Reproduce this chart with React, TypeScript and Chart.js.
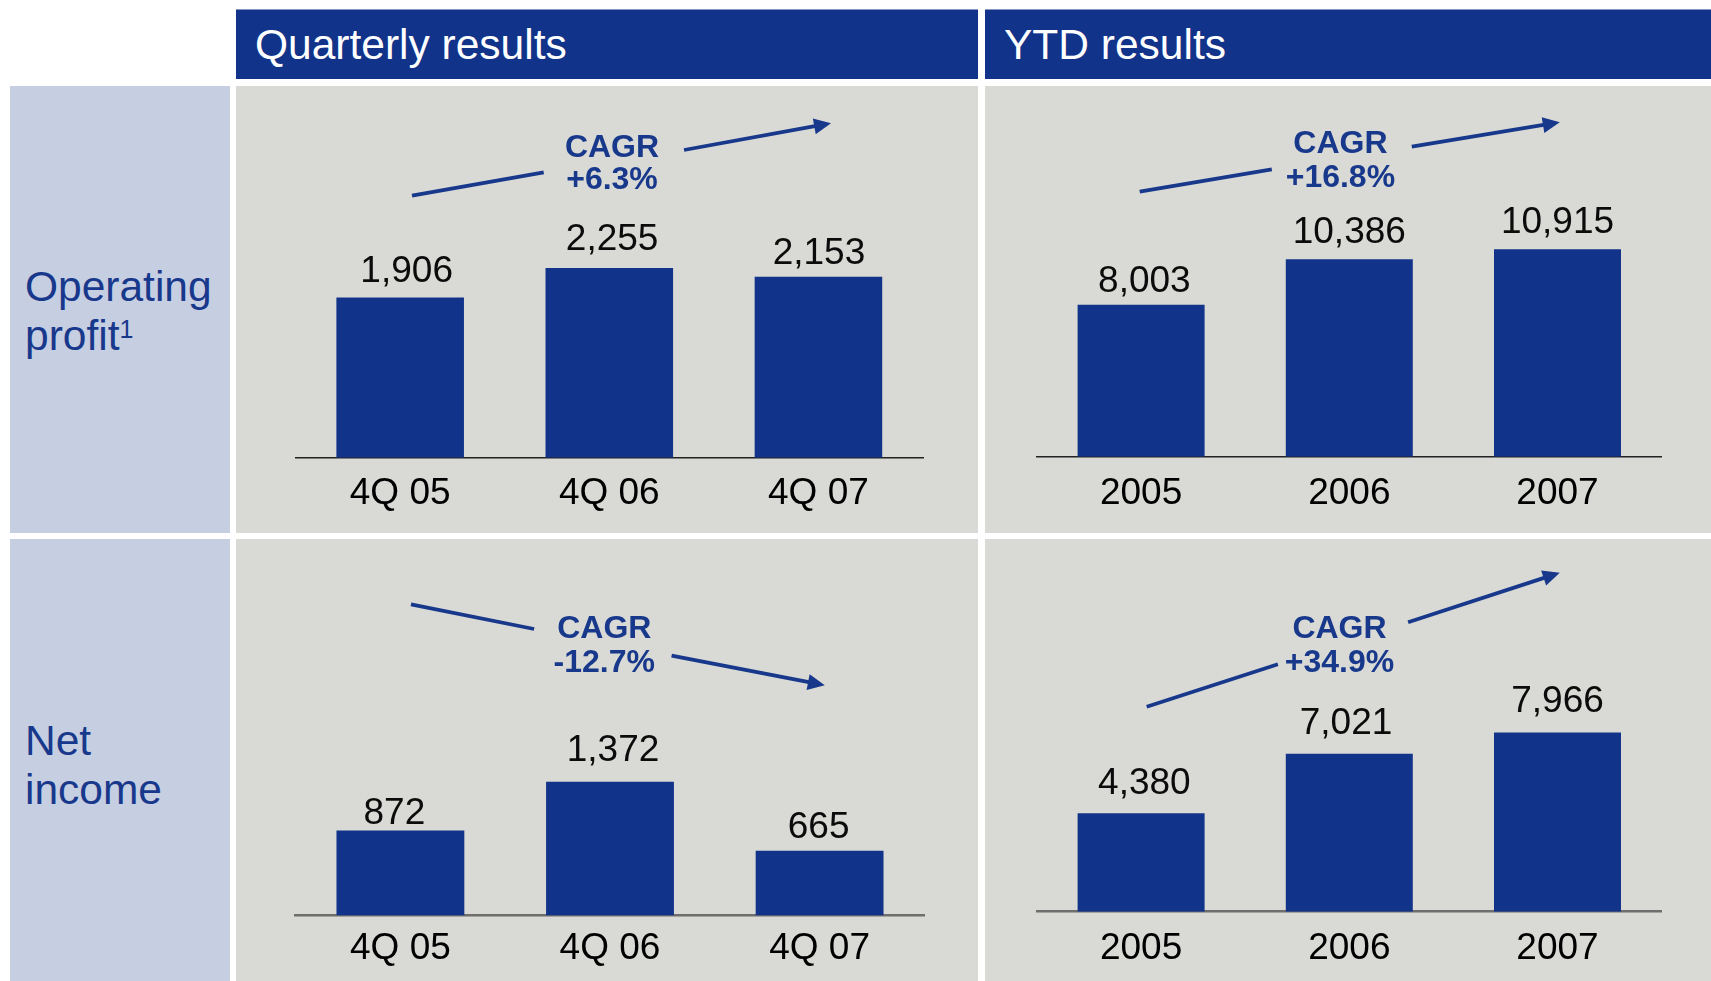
import React, { useEffect, useRef } from "react";
import { Chart, registerables } from "chart.js";

Chart.register(...registerables);

// ---------- data ----------
const quarterLabels = ["4Q 05", "4Q 06", "4Q 07"];
const yearLabels = ["2005", "2006", "2007"];
const opProfitQuarterly = [1906, 2255, 2153];
const opProfitYtd = [8003, 10386, 10915];
const netIncomeQuarterly = [872, 1372, 665];
const netIncomeYtd = [4380, 7021, 7966];
const cagrOpQuarterly = "+6.3%";
const cagrOpYtd = "+16.8%";
const cagrNiQuarterly = "-12.7%";
const cagrNiYtd = "+34.9%";
const columnTitles = ["Quarterly results", "YTD results"];

// ---------- styles ----------
const FONT = '"Liberation Sans", Arial, Helvetica, sans-serif';
const BLUE = "#12338A";
const TEXT_BLUE = "#18388C";
const PANEL_BG = "#D9DAD5";
const LABEL_BG = "#C6CEE1";

type Seg = [number, number, number, number];

type PanelCfg = {
  left: number;
  top: number;
  width: number;
  height: number;
  padLeft: number;
  padRight: number;
  padBottom: number;
  yMax: number;
  tickPad: number;
  labelGap: number;
  labelDx: number[];
  labelDy: number[];
  axisColor: string;
  axisWidth: number;
  cagrText: string;
  cagrX: number;
  cagrY1: number;
  cagrY2: number;
  seg1: Seg;
  seg2: Seg;
};

const fmt = (v: number) => v.toLocaleString("en-US");

const overlayPlugin = {
  id: "overlay",
  afterDatasetsDraw(chart: any, _args: any, opts: any) {
    const ctx: CanvasRenderingContext2D = chart.ctx;
    const meta = chart.getDatasetMeta(0);
    const data = chart.data.datasets[0].data as number[];
    ctx.save();
    // value labels
    ctx.font = `37px ${FONT}`;
    ctx.fillStyle = "#0b0b0b";
    ctx.textAlign = "center";
    ctx.textBaseline = "alphabetic";
    meta.data.forEach((bar: any, i: number) => {
      ctx.fillText(
        fmt(data[i]),
        bar.x + (opts.labelDx[i] || 0),
        bar.y - opts.labelGap + (opts.labelDy[i] || 0)
      );
    });
    // CAGR text
    ctx.font = `bold 32px ${FONT}`;
    ctx.fillStyle = TEXT_BLUE;
    ctx.fillText("CAGR", opts.cagrX, opts.cagrY1);
    ctx.fillText(opts.cagrText, opts.cagrX, opts.cagrY2);
    // arrow
    ctx.strokeStyle = TEXT_BLUE;
    ctx.fillStyle = TEXT_BLUE;
    ctx.lineWidth = 3.8;
    ctx.lineCap = "butt";
    const s1: Seg = opts.seg1;
    const s2: Seg = opts.seg2;
    ctx.beginPath();
    ctx.moveTo(s1[0], s1[1]);
    ctx.lineTo(s1[2], s1[3]);
    ctx.stroke();
    const ang = Math.atan2(s2[3] - s2[1], s2[2] - s2[0]);
    const headL = 17;
    const headW = 8;
    const bx = s2[2] - headL * Math.cos(ang);
    const by = s2[3] - headL * Math.sin(ang);
    ctx.beginPath();
    ctx.moveTo(s2[0], s2[1]);
    ctx.lineTo(bx + 2 * Math.cos(ang), by + 2 * Math.sin(ang));
    ctx.stroke();
    ctx.beginPath();
    ctx.moveTo(s2[2], s2[3]);
    ctx.lineTo(bx - headW * Math.sin(ang), by + headW * Math.cos(ang));
    ctx.lineTo(bx + headW * Math.sin(ang), by - headW * Math.cos(ang));
    ctx.closePath();
    ctx.fill();
    ctx.restore();
  },
};

function BarPanel({ labels, values, cfg }: { labels: string[]; values: number[]; cfg: PanelCfg }) {
  const ref = useRef<HTMLCanvasElement>(null);
  useEffect(() => {
    const chart = new Chart(ref.current as HTMLCanvasElement, {
      type: "bar",
      data: {
        labels,
        datasets: [
          {
            data: values,
            backgroundColor: BLUE,
            borderWidth: 0,
            barPercentage: 0.61,
            categoryPercentage: 1,
          },
        ],
      },
      options: {
        responsive: false,
        animation: false,
        events: [],
        layout: {
          padding: { left: cfg.padLeft, right: cfg.padRight, top: 0, bottom: cfg.padBottom },
        },
        plugins: {
          legend: { display: false },
          tooltip: { enabled: false },
          title: { display: false },
          overlay: {
            labelGap: cfg.labelGap,
            labelDx: cfg.labelDx,
            labelDy: cfg.labelDy,
            cagrText: cfg.cagrText,
            cagrX: cfg.cagrX,
            cagrY1: cfg.cagrY1,
            cagrY2: cfg.cagrY2,
            seg1: cfg.seg1,
            seg2: cfg.seg2,
          },
        } as any,
        scales: {
          x: {
            type: "category",
            grid: { display: false, drawTicks: false },
            border: { display: true, color: cfg.axisColor, width: cfg.axisWidth },
            ticks: {
              color: "#000",
              padding: cfg.tickPad,
              font: { family: FONT, size: 37, lineHeight: 1.2 },
              maxRotation: 0,
              autoSkip: false,
            },
            afterFit: (scale: any) => {
              scale.height = 60;
            },
          },
          y: {
            display: false,
            min: 0,
            max: cfg.yMax,
          },
        },
      },
      plugins: [overlayPlugin],
    });
    return () => chart.destroy();
  }, []);
  return (
    <div
      style={{
        position: "absolute",
        left: cfg.left,
        top: cfg.top,
        width: cfg.width,
        height: cfg.height,
        background: PANEL_BG,
      }}
    >
      <canvas ref={ref} width={cfg.width} height={cfg.height} style={{ display: "block" }} />
    </div>
  );
}

const panelTL: PanelCfg = {
  left: 236, top: 86, width: 742, height: 447,
  padLeft: 59.6, padRight: 55, padBottom: 15.3, yMax: 4420,
  tickPad: 13.4, labelGap: 16, labelDx: [6.5, 2.8, 0.5], labelDy: [1, -2.2, 3.3],
  axisColor: "#222", axisWidth: 1.6,
  cagrText: cagrOpQuarterly, cagrX: 376, cagrY1: 70.7, cagrY2: 103.3,
  seg1: [176, 109.7, 307.7, 86.3], seg2: [448, 64, 595, 37.3],
};
const panelTR: PanelCfg = {
  left: 985, top: 86, width: 726, height: 447,
  padLeft: 52, padRight: 49.4, padBottom: 16.3, yMax: 19511,
  tickPad: 14.4, labelGap: 15, labelDx: [3.3, 0, 0], labelDy: [2, -1, -1],
  axisColor: "#222", axisWidth: 1.6,
  cagrText: cagrOpYtd, cagrX: 355.4, cagrY1: 67.3, cagrY2: 100.7,
  seg1: [154.7, 105.7, 286.8, 83.3], seg2: [426.8, 60.7, 574.8, 36.3],
};
const panelBL: PanelCfg = {
  left: 236, top: 539, width: 742, height: 442,
  padLeft: 59.6, padRight: 53.6, padBottom: 5.5, yMax: 3862,
  tickPad: 11, labelGap: 14, labelDx: [-6, 3, -1], labelDy: [7.6, -6.5, 1],
  axisColor: "#6e6e6e", axisWidth: 2.5,
  cagrText: cagrNiQuarterly, cagrX: 368.3, cagrY1: 99.3, cagrY2: 132.7,
  seg1: [175, 65.3, 298.1, 90], seg2: [435.6, 116.7, 588.8, 146.3],
};
const panelBR: PanelCfg = {
  left: 985, top: 539, width: 726, height: 442,
  padLeft: 52, padRight: 49.4, padBottom: 9.3, yMax: 16564,
  tickPad: 14.4, labelGap: 20, labelDx: [3.3, -3.3, 0], labelDy: [1, 0, 0],
  axisColor: "#6e6e6e", axisWidth: 2.5,
  cagrText: cagrNiYtd, cagrX: 354.5, cagrY1: 99.3, cagrY2: 132.7,
  seg1: [161.7, 167.7, 292.9, 125.3], seg2: [423.1, 83.3, 574.8, 33.7],
};

function Header({ left, width, text }: { left: number; width: number; text: string }) {
  return (
    <div
      style={{
        position: "absolute",
        left,
        top: 9,
        width: width - 19,
        height: 70,
        paddingLeft: 19,
        paddingTop: 2,
        boxSizing: "border-box",
        background: BLUE,
        color: "#fff",
        fontFamily: FONT,
        fontSize: 42.5,
        lineHeight: 1,
        display: "flex",
        alignItems: "center",
        borderTop: "1px solid #8796c2",
      }}
    >
      {text}
    </div>
  );
}

function RowLabel({ top, height, textTop, children }: { top: number; height: number; textTop: number; children: React.ReactNode }) {
  return (
    <div
      style={{
        position: "absolute",
        left: 10,
        top,
        width: 220,
        height,
        background: LABEL_BG,
      }}
    >
      <div
        style={{
          position: "absolute",
          left: 15,
          top: textTop,
          color: TEXT_BLUE,
          fontFamily: FONT,
          fontSize: 42.5,
          lineHeight: "49px",
          whiteSpace: "nowrap",
        }}
      >
        {children}
      </div>
    </div>
  );
}

export default function App() {
  return (
    <div
      style={{
        position: "absolute",
        left: 0,
        top: 0,
        width: 1711,
        height: 981,
        background: "#fff",
        overflow: "hidden",
      }}
    >
      <Header left={236} width={761} text={columnTitles[0]} />
      <Header left={985} width={745} text={columnTitles[1]} />
      <RowLabel top={86} height={447} textTop={175.6}>
        Operating
        <br />
        profit
        <span style={{ fontSize: 25, position: "relative", top: -12, verticalAlign: "baseline" }}>1</span>
      </RowLabel>
      <RowLabel top={539} height={442} textTop={176.6}>
        Net
        <br />
        income
      </RowLabel>
      <BarPanel labels={quarterLabels} values={opProfitQuarterly} cfg={panelTL} />
      <BarPanel labels={yearLabels} values={opProfitYtd} cfg={panelTR} />
      <BarPanel labels={quarterLabels} values={netIncomeQuarterly} cfg={panelBL} />
      <BarPanel labels={yearLabels} values={netIncomeYtd} cfg={panelBR} />
    </div>
  );
}
